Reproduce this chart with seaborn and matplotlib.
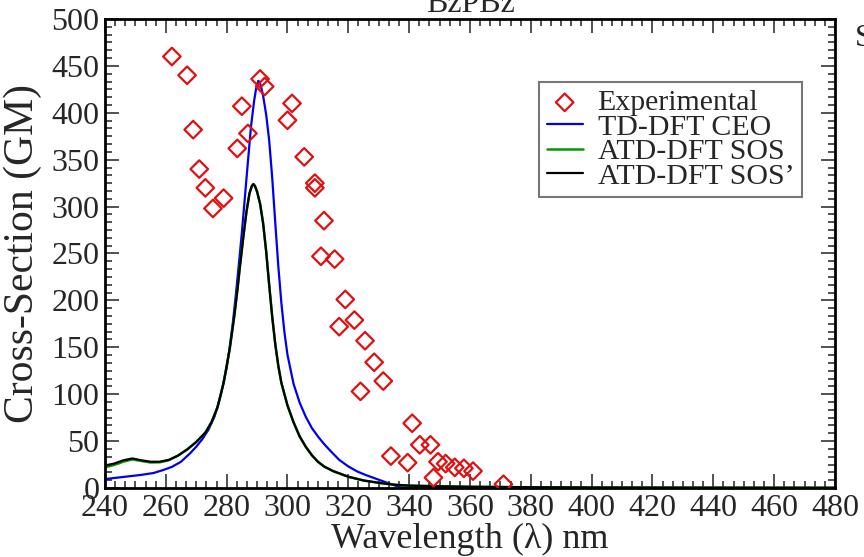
import numpy as np
import pandas as pd
import seaborn as sns
import matplotlib.pyplot as plt
from matplotlib.ticker import MultipleLocator, AutoMinorLocator

# experimental two-photon cross sections
exp_wavelength = [262, 267, 269, 271, 273, 275.5, 279, 283.5, 285, 287, 291, 292.5,
                  300, 301.5, 305.5, 309, 309, 312, 311, 315.5, 319, 317, 322, 325.5,
                  328.5, 324, 331.5, 341, 334, 339.5, 343.5, 347, 348, 349.5, 352,
                  355, 358, 361, 371]
exp_cross = [460, 440, 382, 340, 320, 298, 309, 362, 407, 378, 436, 428,
             392, 410, 353, 325, 320, 285, 247, 244, 201, 172, 179, 157,
             134, 103, 114, 69, 34, 27, 46, 46, 11, 28, 26, 22, 21, 18, 4]

# TD-DFT CEO (blue)
ceo_wavelength = [240, 244, 248, 252, 256, 259, 262, 265, 268, 270, 272, 274, 276,
                  278, 280, 281, 282, 283, 284, 285, 286, 287, 288, 289, 289.8,
                  290.4, 290.8, 291.3, 292, 293, 294, 295, 296, 297, 298, 299,
                  300, 302, 304, 306, 308, 310, 312, 314, 317, 320, 323, 326, 329,
                  332, 335, 337, 340, 360, 400, 480]
ceo_cross = [9.5, 11, 12.5, 14, 16, 19, 22.5, 28, 37, 44, 52, 62, 76,
             98, 128, 150, 175, 205, 238, 272, 310, 348, 385, 412, 428,
             434, 433, 428, 418, 398, 370, 330, 282, 236, 197, 166,
             142, 111, 91, 76, 64, 55, 47, 40, 30, 23, 17.5, 13.5, 10,
             6.5, 3, 0.8, 0, 0, 0, 0]

# ATD-DFT SOS' (black)
sosp_wavelength = [240, 243, 246, 249, 252, 255, 258, 261, 264, 267, 270, 273, 275,
                   277, 279, 281, 282.5, 283.5, 284.5, 285.5, 286.5, 287.5, 288.3,
                   288.8, 289.3, 290, 291, 292, 293, 294, 295, 296, 297, 298, 300,
                   302, 304, 306, 308, 310, 312, 315, 320, 325, 330, 335,
                   340, 350, 360, 380, 400, 440, 480]
sosp_cross = [24, 26, 29.5, 31.5, 29.5, 28, 28, 30, 34.5, 41, 49, 59, 70,
              86, 112, 148, 183, 210, 240, 268, 294, 314, 322,
              324, 322, 316, 303, 282, 252, 216, 182, 153, 130, 112, 88,
              70, 55, 44, 35, 28, 23, 18, 12, 8, 5.5, 3.5,
              2.5, 1.8, 1.3, 0.8, 0.5, 0.3, 0.2]

# ATD-DFT SOS (green), slightly below SOS' at short wavelengths
sos_wavelength = sosp_wavelength
sos_cross = [22, 24.5, 28, 30.5, 28.8, 27.2, 27.4, 29.6] + sosp_cross[8:]

exp_df = pd.DataFrame({"wl": exp_wavelength, "cs": exp_cross})
ceo_df = pd.DataFrame({"wl": ceo_wavelength, "cs": ceo_cross})
sos_df = pd.DataFrame({"wl": sos_wavelength, "cs": sos_cross})
sosp_df = pd.DataFrame({"wl": sosp_wavelength, "cs": sosp_cross})

sns.set_theme(style="ticks")
plt.rcParams["font.family"] = ["Liberation Serif", "DejaVu Serif"]

fig = plt.figure(figsize=(8.64, 5.57), dpi=100)
ax = fig.add_axes([0.1215, 0.1239, 0.8449, 0.842])

sns.lineplot(data=ceo_df, x="wl", y="cs", ax=ax, color="#0000ee", lw=1.6,
             estimator=None, label="TD-DFT CEO")
sns.lineplot(data=sos_df, x="wl", y="cs", ax=ax, color="#009a00", lw=1.8,
             estimator=None, label="ATD-DFT SOS")
sns.lineplot(data=sosp_df, x="wl", y="cs", ax=ax, color="black", lw=1.6,
             estimator=None, label="ATD-DFT SOS\u2019")
sns.scatterplot(data=exp_df, x="wl", y="cs", ax=ax, marker="D", s=80,
                facecolor="none", edgecolor="#e01010", linewidth=1.6,
                label="Experimental", zorder=5)

ax.set_xlim(240, 480)
ax.set_ylim(0, 500)
ax.xaxis.set_major_locator(MultipleLocator(20))
ax.xaxis.set_minor_locator(AutoMinorLocator(6))
ax.yaxis.set_major_locator(MultipleLocator(50))
ax.yaxis.set_minor_locator(AutoMinorLocator(6))
ax.tick_params(which="both", direction="in", top=True, right=True,
               color="#333333", width=1.2, labelsize=23)
ax.tick_params(which="major", length=10, pad=4)
ax.tick_params(which="minor", length=5)
for sp in ax.spines.values():
    sp.set_linewidth(2)
    sp.set_color("black")

ax.set_xlabel("Wavelength (\u03bb) nm", fontsize=26, labelpad=0)
ax.set_ylabel("Cross-Section (GM)", fontsize=30, labelpad=7)

handles, labels = ax.get_legend_handles_labels()
order = [3, 0, 1, 2]
leg = ax.legend([handles[i] for i in order], [labels[i] for i in order],
                loc="upper left", bbox_to_anchor=(0.595, 0.866), fontsize=21.5,
                frameon=True, fancybox=False, edgecolor="#777777",
                framealpha=1, borderpad=0.25, labelspacing=-0.08,
                handlelength=1.2, handletextpad=0.5, borderaxespad=0)
leg.get_frame().set_linewidth(1.5)

fig.text(0.545, 1 - 12 / 557, "BzPBz", ha="center", va="baseline", fontsize=23)
fig.text(855 / 864, 1 - 46 / 557, "S", ha="left", va="baseline", fontsize=23)

fig.savefig("out.png", dpi=100)
